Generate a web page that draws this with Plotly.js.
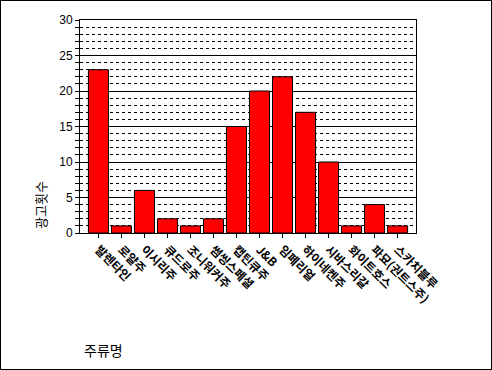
<!DOCTYPE html>
<html>
<head>
<meta charset="utf-8">
<script src="https://cdn.plot.ly/plotly-3.0.1.min.js"></script>
<style>
  html, body { margin: 0; padding: 0; background: #fff; }
  #wrap { position: relative; width: 492px; height: 370px; }
  #chart { width: 492px; height: 370px; }
  #frame { position: absolute; left: 0; top: 0; width: 490px; height: 368px; border: 1px solid #000; pointer-events: none; }
</style>
</head>
<body>
<div id="wrap"><div id="chart"></div><div id="frame"></div></div>
<script>
const categories = ["발렌타인", "로얄주", "이시리주", "큐드로주", "조니워커주", "썸씽스페셜", "캡틴큐주", "J&B", "임페리얼", "하이네켄주", "시바스리갈", "화이트호스", "파묘(권트스주)", "스카치블루"];
const adCounts = [23, 1, 6, 2, 1, 2, 15, 20, 22, 17, 10, 1, 4, 1];
const yTitle = "광고횟수";
const xTitle = "주류명";

const trace = {
  type: "bar",
  x: categories.map((c, i) => i),
  y: adCounts,
  marker: { color: "#ff0000", line: { color: "#000000", width: 1 } },
  hoverinfo: "skip"
};

const layout = {
  width: 492, height: 370,
  margin: { l: 80, r: 76, t: 20, b: 137 },
  paper_bgcolor: "#ffffff",
  plot_bgcolor: "#ffffff",
  showlegend: false,
  bargap: 0.13,
  font: { family: "'Noto Sans CJK KR', 'DejaVu Sans', sans-serif", color: "#000" },
  xaxis: {
    range: [-0.8, 13.8],
    tickmode: "array",
    tickvals: categories.map((c, i) => i),
    ticktext: categories,
    tickangle: 45,
    ticks: "outside", ticklen: 4, tickcolor: "#000",
    tickfont: { family: "'Noto Sans CJK KR', sans-serif", size: 12, color: "#000", weight: "bold" },
    showline: true, linecolor: "#000", linewidth: 1, mirror: true,
    showgrid: false, zeroline: false, fixedrange: true
  },
  yaxis: {
    range: [0, 30],
    dtick: 5,
    ticks: "outside", ticklen: 4, tickcolor: "#000",
    tickfont: { family: "'Liberation Sans', Arial, sans-serif", size: 12, color: "#000" },
    showline: true, linecolor: "#000", linewidth: 1, mirror: true,
    showgrid: true, gridcolor: "#000", gridwidth: 1,
    zeroline: false, fixedrange: true,
    minor: { dtick: 1, ticks: "outside", ticklen: 4, tickcolor: "#000", showgrid: true, gridcolor: "#000", gridwidth: 1, griddash: "dot" }
  },
  annotations: [
    { text: yTitle, xref: "paper", yref: "paper", x: (40-80)/336, y: (370-137-205)/213, xanchor: "center", yanchor: "middle", textangle: -90, showarrow: false, font: { size: 13, color: "#000", family: "'Noto Sans CJK KR', sans-serif" } },
    { text: xTitle, xref: "paper", yref: "paper", x: (103-80)/336, y: -(350-233)/213, xanchor: "center", yanchor: "middle", showarrow: false, font: { size: 14, color: "#000", family: "'Noto Sans CJK KR', sans-serif" } }
  ]
};

Plotly.newPlot("chart", [trace], layout, { displayModeBar: false, staticPlot: true });
</script>
</body>
</html>
